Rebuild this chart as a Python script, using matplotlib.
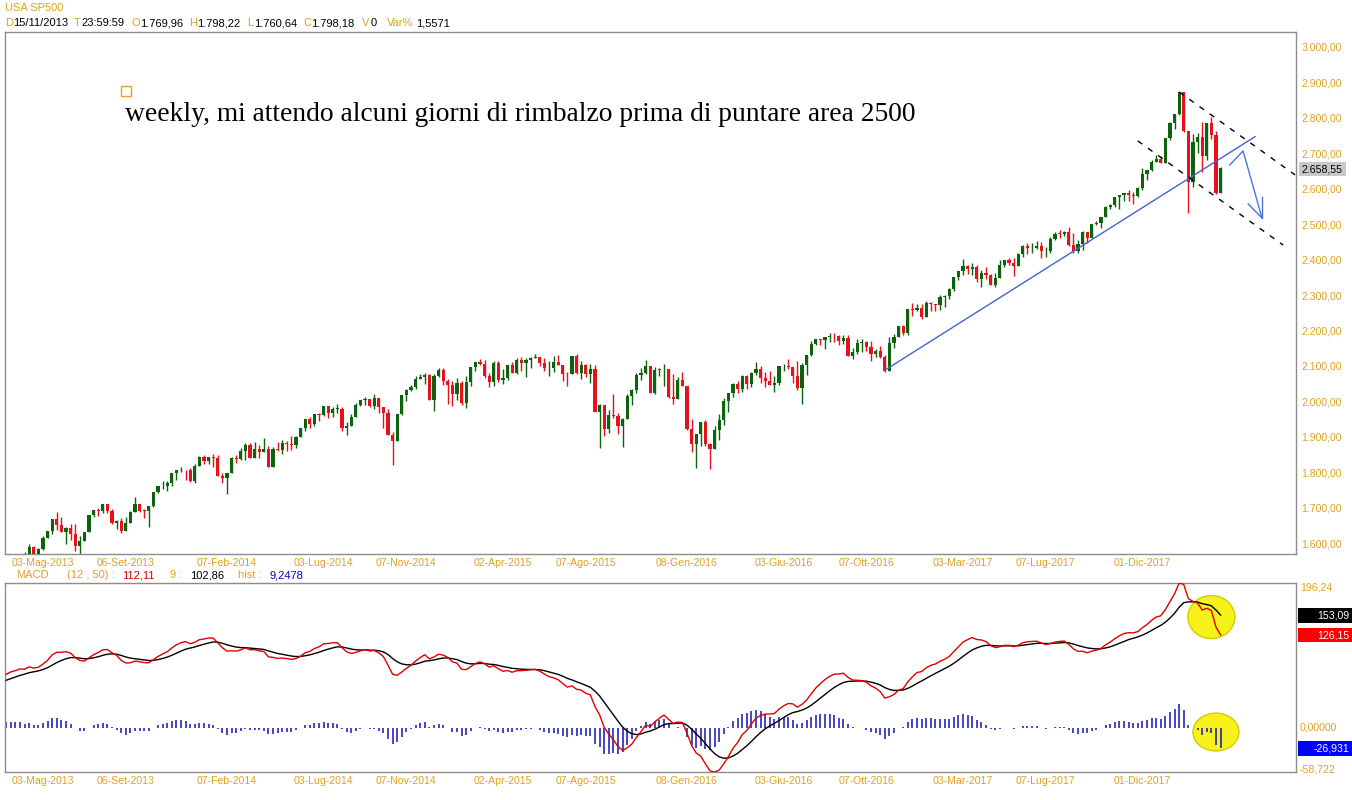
import matplotlib
matplotlib.use("Agg")
import matplotlib.pyplot as plt
import numpy as np
from matplotlib.patches import Ellipse, Rectangle

# ---------------- data (weekly S&P500, week ending 08-Mar-2013 = index -8) ----------------
first_open = 1518.20

closes_2013 = [1551.18, 1560.70, 1556.89, 1569.19, 1553.28, 1588.85, 1555.25, 1582.24, 1614.42, 1633.70,
               1667.47, 1649.60, 1630.74, 1643.38, 1626.73, 1592.43, 1606.28, 1631.89, 1680.19, 1692.09,
               1691.65, 1709.67, 1691.42, 1655.83, 1663.50, 1632.97, 1655.17, 1687.99, 1709.91, 1691.75,
               1690.50, 1703.20, 1744.50, 1759.77, 1761.64, 1770.61, 1798.18, 1804.76, 1805.81, 1805.09,
               1775.32, 1818.32, 1841.40]
highs_2013 = [1552.48, 1563.32, 1564.91, 1570.28, 1573.66, 1597.35, 1592.64, 1585.78, 1618.46, 1635.01,
              1667.47, 1687.18, 1674.21, 1646.50, 1654.19, 1654.00, 1620.07, 1632.07, 1680.19, 1693.12,
              1698.78, 1709.67, 1709.24, 1696.81, 1664.70, 1669.51, 1672.40, 1689.97, 1729.86, 1711.00,
              1696.55, 1704.96, 1745.31, 1759.82, 1775.22, 1774.54, 1798.22, 1804.84, 1813.55, 1806.04,
              1811.52, 1823.75, 1844.89]
lows_2013 = [1514.50, 1547.36, 1538.57, 1546.22, 1539.50, 1548.50, 1536.03, 1553.30, 1581.28, 1613.50,
             1626.70, 1635.53, 1630.70, 1598.23, 1608.20, 1577.70, 1560.33, 1604.57, 1631.20, 1674.05,
             1676.03, 1684.90, 1684.90, 1654.19, 1639.15, 1627.47, 1633.41, 1656.50, 1688.00, 1687.11,
             1670.36, 1646.47, 1700.30, 1740.50, 1752.70, 1746.20, 1760.64, 1777.23, 1799.60, 1779.09,
             1772.80, 1767.99, 1818.30]

closes_2014 = [1831.37, 1842.37, 1838.70, 1790.29, 1782.59, 1797.02, 1838.63, 1836.25, 1859.45, 1878.04,
               1841.13, 1866.52, 1857.62, 1865.09, 1815.69, 1864.85, 1863.40, 1881.14, 1878.48, 1877.86,
               1900.53, 1923.57, 1949.44, 1936.16, 1962.87, 1960.96, 1985.44, 1967.57, 1978.22, 1978.34,
               1925.15, 1931.59, 1955.06, 1988.40, 2003.37, 2007.71, 1985.54, 2010.40, 1982.85, 1967.90,
               1906.13, 1886.76, 1964.58, 2018.05, 2031.92, 2039.82, 2063.50, 2067.56, 2075.37, 2002.33,
               2070.65, 2088.77]
highs_2014 = [1849.44, 1843.23, 1850.84, 1849.31, 1798.77, 1798.03, 1841.65, 1847.50, 1867.92, 1883.57,
              1882.35, 1883.97, 1875.92, 1897.28, 1872.53, 1869.63, 1884.89, 1891.33, 1889.07, 1902.17,
              1901.26, 1924.03, 1949.44, 1955.55, 1963.91, 1968.17, 1985.59, 1984.85, 1983.94, 1991.39,
              1984.85, 1942.92, 1964.04, 1994.76, 2005.04, 2011.17, 2007.71, 2019.26, 2007.80, 1985.17,
              1977.57, 1912.09, 1965.27, 2018.19, 2034.26, 2046.18, 2071.46, 2075.76, 2079.47, 2075.78,
              2077.85, 2093.55]
lows_2014 = [1822.36, 1823.73, 1815.52, 1790.29, 1770.45, 1737.92, 1798.77, 1826.24, 1834.44, 1834.44,
             1839.49, 1841.86, 1839.62, 1856.72, 1814.36, 1820.82, 1859.70, 1850.61, 1859.79, 1862.36,
             1868.14, 1900.53, 1915.98, 1925.78, 1930.11, 1944.69, 1958.22, 1952.86, 1955.59, 1965.77,
             1916.37, 1904.78, 1933.04, 1954.59, 1987.80, 1990.10, 1983.55, 1978.48, 1965.99, 1926.03,
             1905.03, 1820.66, 1886.76, 1960.70, 2001.01, 2030.17, 2034.46, 2064.75, 2049.57, 2002.33,
             1972.56, 2069.27]

closes_2015 = [2058.20, 2044.81, 2019.42, 2051.82, 1994.99, 2055.47, 2096.99, 2110.30, 2104.50, 2071.26,
               2053.40, 2108.10, 2061.02, 2066.96, 2102.06, 2081.18, 2117.69, 2108.29, 2116.10, 2122.73,
               2126.06, 2107.39, 2092.83, 2094.11, 2109.99, 2101.49, 2076.78, 2076.62, 2126.64, 2079.65,
               2103.84, 2077.57, 2091.54, 1970.89, 1988.87, 1921.22, 1961.05, 1958.03, 1931.34, 1951.36,
               2014.89, 2033.11, 2075.15, 2079.36, 2099.20, 2023.04, 2089.17, 2090.11, 2091.69, 2012.37,
               2005.55, 2060.99, 2043.94]
highs_2015 = [2093.55, 2064.08, 2056.93, 2064.62, 2057.62, 2072.40, 2097.03, 2110.61, 2119.59, 2117.52,
              2079.47, 2113.93, 2114.86, 2089.81, 2102.61, 2111.91, 2120.92, 2125.92, 2120.95, 2123.89,
              2134.72, 2126.22, 2121.92, 2115.02, 2126.65, 2129.87, 2102.60, 2083.00, 2128.57, 2132.82,
              2114.24, 2104.30, 2105.35, 2102.48, 1993.48, 1975.01, 1975.02, 2020.86, 1968.20, 1952.89,
              2020.13, 2033.54, 2079.74, 2094.32, 2116.48, 2093.00, 2097.06, 2094.12, 2104.27, 2090.42,
              2076.72, 2067.65, 2081.56]
lows_2015 = [2046.04, 1992.44, 1988.12, 2004.49, 1989.18, 1980.90, 2041.88, 2085.44, 2103.00, 2066.23,
             2039.69, 2044.16, 2055.19, 2048.38, 2059.46, 2079.33, 2077.84, 2085.67, 2067.93, 2092.86,
             2120.96, 2099.18, 2085.67, 2072.14, 2082.07, 2101.49, 2056.32, 2044.02, 2076.62, 2077.24,
             2063.52, 2067.91, 2052.09, 1970.89, 1867.01, 1903.07, 1910.16, 1953.03, 1908.77, 1871.91,
             1953.87, 1990.73, 2022.05, 2060.60, 2076.28, 2022.02, 2019.39, 2070.29, 2042.35, 2008.80,
             1993.26, 2005.93, 2043.62]

closes_2016 = [1922.03, 1880.33, 1906.90, 1940.24, 1880.05, 1864.78, 1917.78, 1948.05, 1999.99, 2022.19,
               2049.58, 2035.94, 2072.78, 2047.60, 2080.73, 2091.58, 2065.30, 2057.14, 2046.61, 2052.32,
               2099.06, 2099.13, 2096.07, 2071.22, 2037.41, 2102.95, 2129.90, 2161.74, 2175.03, 2173.60,
               2182.87, 2184.05, 2183.87, 2169.04, 2179.98, 2127.81, 2139.16, 2164.69, 2168.27, 2153.74,
               2132.98, 2141.16, 2126.41, 2085.18, 2164.45, 2181.90, 2213.35, 2191.95, 2259.53, 2258.07,
               2263.79, 2238.83]
highs_2016 = [2038.20, 1950.33, 1908.85, 1940.24, 1947.20, 1881.60, 1930.68, 1962.96, 2009.13, 2022.19,
              2052.36, 2056.60, 2074.02, 2075.07, 2083.79, 2111.05, 2099.89, 2083.42, 2084.87, 2071.88,
              2099.06, 2105.26, 2120.55, 2096.07, 2113.32, 2108.71, 2131.71, 2169.05, 2175.63, 2177.09,
              2182.87, 2193.81, 2193.42, 2187.94, 2187.87, 2187.36, 2150.80, 2175.30, 2175.30, 2169.60,
              2169.60, 2147.18, 2154.79, 2131.45, 2182.30, 2189.89, 2213.35, 2214.10, 2259.53, 2277.53,
              2273.82, 2273.58]
lows_2016 = [1918.46, 1857.83, 1812.29, 1872.65, 1872.65, 1810.10, 1864.78, 1891.00, 1931.81, 1969.25,
             2012.93, 2022.31, 2027.22, 2033.80, 2039.74, 2073.65, 2052.28, 2039.45, 2045.12, 2025.91,
             2047.26, 2085.55, 2089.78, 2050.37, 2032.57, 1991.68, 2074.02, 2128.80, 2159.01, 2159.79,
             2147.58, 2168.50, 2168.25, 2159.07, 2160.39, 2127.81, 2119.12, 2133.03, 2139.17, 2142.63,
             2114.72, 2124.44, 2122.50, 2083.79, 2097.85, 2151.79, 2182.30, 2187.44, 2187.51, 2241.89,
             2253.58, 2233.62]

closes_2017 = [2276.98, 2274.64, 2271.31, 2294.69, 2297.42, 2316.10, 2351.16, 2367.34, 2383.12, 2372.60,
               2378.25, 2343.98, 2362.72, 2355.54, 2328.95, 2348.69, 2384.20, 2399.29, 2390.90, 2381.73,
               2415.82, 2439.07, 2431.77, 2433.15, 2438.30, 2423.41, 2425.18, 2459.27, 2472.54, 2472.10,
               2476.83, 2441.32, 2425.55, 2443.05, 2476.55, 2461.43, 2500.23, 2502.22, 2519.36, 2549.33,
               2553.17, 2575.21, 2581.07, 2587.84, 2582.30, 2578.85, 2602.42, 2642.22, 2651.50, 2675.81,
               2683.34, 2673.61]
highs_2017 = [2282.10, 2279.27, 2272.08, 2300.99, 2299.40, 2319.23, 2351.31, 2368.26, 2400.98, 2383.89,
              2390.01, 2385.71, 2370.35, 2378.36, 2359.58, 2361.37, 2398.16, 2399.29, 2403.87, 2405.77,
              2418.71, 2440.23, 2446.20, 2446.20, 2453.82, 2450.42, 2434.56, 2463.54, 2477.62, 2484.04,
              2480.38, 2490.87, 2474.93, 2454.77, 2480.15, 2475.68, 2500.23, 2508.85, 2519.44, 2552.51,
              2557.65, 2575.44, 2582.98, 2588.42, 2597.02, 2590.09, 2604.21, 2657.74, 2651.65, 2679.63,
              2694.97, 2692.12]
lows_2017 = [2245.13, 2254.25, 2254.25, 2257.02, 2267.21, 2288.54, 2311.08, 2342.30, 2355.73, 2358.22,
             2355.81, 2336.62, 2322.25, 2344.73, 2328.95, 2322.25, 2363.78, 2379.75, 2385.75, 2353.81,
             2383.14, 2407.70, 2415.70, 2419.38, 2428.69, 2405.70, 2407.70, 2417.35, 2454.29, 2459.93,
             2466.48, 2437.75, 2417.35, 2417.35, 2428.20, 2446.55, 2471.97, 2496.67, 2488.03, 2520.40,
             2542.73, 2547.92, 2544.00, 2566.17, 2566.33, 2557.45, 2575.89, 2597.02, 2624.75, 2650.71,
             2676.11, 2673.61]

closes_2018 = [2743.15, 2786.24, 2810.30, 2872.87, 2762.13, 2619.55, 2732.22, 2747.30, 2691.25, 2786.57,
               2752.01, 2588.26, 2658.55]
highs_2018 = [2743.45, 2787.85, 2810.33, 2872.87, 2870.62, 2763.39, 2754.42, 2757.00, 2789.15, 2786.57,
              2801.90, 2761.85, 2661.36]
lows_2018 = [2682.36, 2737.60, 2768.64, 2808.12, 2759.97, 2532.69, 2605.10, 2699.39, 2647.58, 2681.19,
             2741.38, 2585.89, 2601.81]

closes = closes_2013 + closes_2014 + closes_2015 + closes_2016 + closes_2017 + closes_2018
highs = highs_2013 + highs_2014 + highs_2015 + highs_2016 + highs_2017 + highs_2018
lows = lows_2013 + lows_2014 + lows_2015 + lows_2016 + lows_2017 + lows_2018
first_week = -8  # week index of the first candle (03-Mag-2013 = 0)

date_tick_weeks = [0, 18, 40, 61, 79, 100, 118, 140, 161, 179, 200, 218, 239]
date_tick_labels = ["03-Mag-2013", "06-Set-2013", "07-Feb-2014", "03-Lug-2014", "07-Nov-2014",
                    "02-Apr-2015", "07-Ago-2015", "08-Gen-2016", "03-Giu-2016", "07-Ott-2016",
                    "03-Mar-2017", "07-Lug-2017", "01-Dic-2017"]
price_ticks = list(range(1600, 3001, 100))
last_price = 2658.55

macd_top, macd_bottom = 196.24, -58.722
macd_last, signal_last, hist_last = 126.15, 153.09, -26.931
# MACD(12,50) signal 9 -- indicator state at the left edge
ema_fast_seed, ema_slow_seed, signal_seed = 1500.0, 1430.0, 63.0

# hand-drawn annotations (week index, price)
trend_line = ([182.8, 263.5], [2086.0, 2747.0])
channel_upper = ([247.0, 272.2], [2873.0, 2639.0])
channel_lower = ([238.0, 269.6], [2735.0, 2441.0])
arrow_path = ([258.0, 260.9, 265.0], [2667.0, 2706.5, 2517.4])
arrow_head_a = ([262.0, 265.0], [2557.0, 2517.4])
arrow_head_b = ([265.0, 265.0], [2576.6, 2517.4])
yellow_marks = [(254.0, 150.3, 10.2, 58.0), (255.0, -4.8, 10.0, 51.0)]

# ---------------- computation ----------------
c = np.array(closes)
o = np.concatenate([[first_open], c[:-1]])
h = np.maximum(np.array(highs), np.maximum(o, c))
l = np.minimum(np.array(lows), np.minimum(o, c))
wk = np.arange(first_week, first_week + len(c))


def ema(series, n, seed):
    a = 2.0 / (n + 1)
    v = seed
    out = []
    for x in series:
        v = v + a * (x - v)
        out.append(v)
    return np.array(out)


macd = ema(c, 12, ema_fast_seed) - ema(c, 50, ema_slow_seed)
sig = ema(macd, 9, signal_seed)
hist = macd - sig

# ---------------- figure ----------------
W, H = 1352, 800
fig = plt.figure(figsize=(W / 100, H / 100), dpi=100)
fig.patch.set_facecolor("white")
ORANGE = "#dfa21e"
GREEN = "#0b640b"
RED = "#e8101a"
SANS = "Liberation Sans"


def fx(px):
    return px / W


def fy(py):
    return 1 - py / H


XL = (-8.26, 272.4)

ax = fig.add_axes([fx(5), fy(554), (1296 - 5) / W, (554 - 32) / H])
ax2 = fig.add_axes([fx(5), fy(772), (1296 - 5) / W, (772 - 583) / H])

for a in (ax, ax2):
    a.set_xlim(*XL)
    for s in a.spines.values():
        s.set_color("#8c8c8c")
        s.set_linewidth(1.0)
    a.set_xticks(date_tick_weeks)
    a.set_xticklabels(date_tick_labels, fontsize=7.6, color=ORANGE, family=SANS)
    a.tick_params(axis="x", length=0, pad=3)
    a.yaxis.tick_right()
    a.tick_params(axis="y", length=0, pad=4)

# candles
up = c >= o
col = np.where(up, GREEN, RED)
ax.vlines(wk, l, h, colors=col, lw=1.0, zorder=2)
body_lo = np.minimum(o, c)
body_h = np.maximum(np.abs(c - o), 1.8)
ax.bar(wk, body_h, bottom=body_lo, width=0.68, color=col, edgecolor="none", zorder=3)

ax.set_ylim(1569.0, 3042.3)
ax.set_yticks(price_ticks)
ax.set_yticklabels([f"{p:,.2f}".replace(",", "X").replace(".", ",").replace("X", ".") for p in price_ticks],
                   fontsize=7.6, color=ORANGE, family=SANS)

# drawings
ax.plot(*trend_line, color="#4563d0", lw=1.0, zorder=4)
ax.plot(*channel_upper, color="black", lw=1.0, dashes=(4, 5), zorder=4)
ax.plot(*channel_lower, color="black", lw=1.0, dashes=(4, 5), zorder=4)
for seg in (arrow_path, arrow_head_a, arrow_head_b):
    ax.plot(*seg, color="#4a74dc", lw=1.0, zorder=4)

# last price box
fig.patches.append(Rectangle((fx(1299), fy(176)), 47 / W, 14 / H, transform=fig.transFigure,
                             facecolor="#c8c8c8", edgecolor="none"))
fig.text(fx(1322), fy(169), "2.658,55", ha="center", va="center", fontsize=7.6, family=SANS, color="black")

# annotation text
fig.patches.append(Rectangle((fx(121), fy(96)), 10 / W, 10 / H, transform=fig.transFigure,
                             facecolor="none", edgecolor="#e8a020", lw=1.0))
fig.text(fx(125), fy(121), "weekly, mi attendo alcuni giorni di rimbalzo prima di puntare area 2500",
         family="Liberation Serif", fontsize=19.8, color="black", va="baseline", ha="left")

# header
fig.text(fx(5), fy(8), "USA SP500", color=ORANGE, fontsize=8, family=SANS, va="center")
hdr = [(5, "D", ORANGE), (13, "15/11/2013", "black"), (74, "T", ORANGE), (81, "23:59:59", "black"),
       (131, "O", ORANGE), (140, "1.769,96", "black"), (189, "H", ORANGE), (197, "1.798,22", "black"),
       (247, "L", ORANGE), (254, "1.760,64", "black"), (303, "C", ORANGE), (311, "1.798,18", "black"),
       (362, "V", ORANGE), (371, "0", "black"), (387, "Var%", ORANGE), (416, "1,5571", "black")]
for px, t, cc in hdr:
    fig.text(fx(px), fy(23), t, color=cc, fontsize=8, family=SANS, va="center")

mhdr = [(16, "MACD", ORANGE), (67, "(12 , 50) :", ORANGE), (122, "112,11", "#d00000"),
        (170, "9 :", ORANGE), (190, "102,86", "black"), (238, "hist :", ORANGE), (270, "9,2478", "#0000c0")]
for px, t, cc in mhdr:
    fig.text(fx(px), fy(575), t, color=cc, fontsize=8, family=SANS, va="center")

# MACD panel
ax2.set_ylim(macd_bottom, macd_top)
for (xc, yc, w_, h_) in yellow_marks:
    ax2.add_patch(Ellipse((xc, yc), w_, h_, facecolor="#f6f21a", edgecolor="#d8c800", lw=1.0, zorder=1))
ax2.vlines(wk, 0, hist, colors="#1414b4", lw=1.1, zorder=2)
ax2.plot(wk, sig, color="black", lw=1.0, zorder=3)
ax2.plot(wk, macd, color="#e00000", lw=1.0, zorder=4)
ax2.set_yticks([])
fig.text(fx(1300), fy(588), "196,24", color=ORANGE, fontsize=7.6, family=SANS, va="center")
fig.text(fx(1300), fy(727), "0,00000", color=ORANGE, fontsize=7.6, family=SANS, va="center")
fig.text(fx(1300), fy(770), "-58,722", color=ORANGE, fontsize=7.6, family=SANS, va="center")

for (val, txt, bg, y0, y1) in [(signal_last, "153,09", "black", 608, 623),
                               (macd_last, "126,15", "#ff0000", 628, 642),
                               (hist_last, "-26,931", "#0000ff", 741, 756)]:
    fig.patches.append(Rectangle((fx(1298), fy(y1)), 54 / W, (y1 - y0) / H, transform=fig.transFigure,
                                 facecolor=bg, edgecolor="none"))
    fig.text(fx(1349), fy((y0 + y1) / 2), txt, color="white", fontsize=7.6, family=SANS,
             va="center", ha="right")

fig.savefig("out.png", dpi=100)
